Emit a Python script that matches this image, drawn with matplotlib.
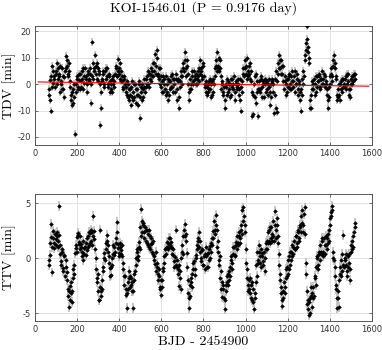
import matplotlib
matplotlib.use("Agg")
import matplotlib.pyplot as plt
from matplotlib.ticker import FuncFormatter, FixedLocator

# ---------------- data ----------------
# transit epochs, first set
t_a = [65, 70, 75, 80, 85, 90, 95, 100, 105, 110,
       115, 120, 125, 130, 135, 140, 145, 150, 155, 160,
       165, 170, 175, 180, 185, 190, 195, 200, 205, 210,
       215, 220, 225, 230, 235, 240, 245, 250, 255, 260,
       265, 270, 275, 280, 285, 290, 295, 300, 305, 310,
       315, 320, 325, 330, 335, 340, 345, 350, 355, 360,
       365, 370, 375, 380, 385, 390, 395, 400, 405, 410,
       415, 420, 425, 430, 435, 440, 445, 450, 455, 460,
       465, 470, 475, 480, 485, 490, 495, 500, 505, 510,
       515, 520, 525, 530, 535, 540, 545, 550, 555, 560,
       565, 570, 575, 580, 585, 590, 595, 600, 605, 610,
       615, 620, 625, 630, 635, 640, 645, 650, 655, 660,
       665, 670, 675, 680, 685, 690, 695, 700, 705, 710,
       715, 720, 725, 730, 735, 740, 745, 750, 755, 760,
       765, 770, 775, 780, 785, 790, 795, 800, 805, 810,
       815, 820, 825, 830, 835, 840, 845, 850, 855, 860,
       865, 870, 875, 880, 885, 890, 895, 900, 905, 910,
       915, 920, 925, 930, 935, 940, 945, 950, 955, 960,
       965, 970, 975, 980, 985, 990, 995, 1000, 1005, 1010,
       1015, 1020, 1025, 1030, 1035, 1040, 1045, 1050, 1055, 1060,
       1065, 1070, 1075, 1080, 1085, 1090, 1095, 1100, 1105, 1110,
       1115, 1120, 1125, 1130, 1135, 1140, 1145, 1150, 1155, 1160,
       1165, 1170, 1175, 1180, 1185, 1190, 1195, 1200, 1205, 1210,
       1215, 1220, 1225, 1230, 1235, 1240, 1245, 1250, 1255, 1260,
       1265, 1270, 1275, 1280, 1285, 1290, 1295, 1300, 1305, 1310,
       1315, 1320, 1325, 1330, 1335, 1340, 1345, 1350, 1355, 1360,
       1365, 1370, 1375, 1380, 1385, 1390, 1395, 1400, 1405, 1410,
       1415, 1420, 1425, 1430, 1435, 1440, 1445, 1450, 1455, 1460,
       1465, 1470, 1475, 1480, 1485, 1490, 1495, 1500, 1505, 1510,
       1515, 1520]

# transit epochs, second set
t_b = [67.5, 72.5, 77.5, 82.5, 87.5, 92.5, 97.5, 102.5, 107.5, 112.5,
       117.5, 122.5, 127.5, 132.5, 137.5, 142.5, 147.5, 152.5, 157.5, 162.5,
       167.5, 172.5, 177.5, 182.5, 187.5, 192.5, 197.5, 202.5, 207.5, 212.5,
       217.5, 222.5, 227.5, 232.5, 237.5, 242.5, 247.5, 252.5, 257.5, 262.5,
       267.5, 272.5, 277.5, 282.5, 287.5, 292.5, 297.5, 302.5, 307.5, 312.5,
       317.5, 322.5, 327.5, 332.5, 337.5, 342.5, 347.5, 352.5, 357.5, 362.5,
       367.5, 372.5, 377.5, 382.5, 387.5, 392.5, 397.5, 402.5, 407.5, 412.5,
       417.5, 422.5, 427.5, 432.5, 437.5, 442.5, 447.5, 452.5, 457.5, 462.5,
       467.5, 472.5, 477.5, 482.5, 487.5, 492.5, 497.5, 502.5, 507.5, 512.5,
       517.5, 522.5, 527.5, 532.5, 537.5, 542.5, 547.5, 552.5, 557.5, 562.5,
       567.5, 572.5, 577.5, 582.5, 587.5, 592.5, 597.5, 602.5, 607.5, 612.5,
       617.5, 622.5, 627.5, 632.5, 637.5, 642.5, 647.5, 652.5, 657.5, 662.5,
       667.5, 672.5, 677.5, 682.5, 687.5, 692.5, 697.5, 702.5, 707.5, 712.5,
       717.5, 722.5, 727.5, 732.5, 737.5, 742.5, 747.5, 752.5, 757.5, 762.5,
       767.5, 772.5, 777.5, 782.5, 787.5, 792.5, 797.5, 802.5, 807.5, 812.5,
       817.5, 822.5, 827.5, 832.5, 837.5, 842.5, 847.5, 852.5, 857.5, 862.5,
       867.5, 872.5, 877.5, 882.5, 887.5, 892.5, 897.5, 902.5, 907.5, 912.5,
       917.5, 922.5, 927.5, 932.5, 937.5, 942.5, 947.5, 952.5, 957.5, 962.5,
       967.5, 972.5, 977.5, 982.5, 987.5, 992.5, 997.5, 1002.5, 1007.5, 1012.5,
       1017.5, 1022.5, 1027.5, 1032.5, 1037.5, 1042.5, 1047.5, 1052.5, 1057.5, 1062.5,
       1067.5, 1072.5, 1077.5, 1082.5, 1087.5, 1092.5, 1097.5, 1102.5, 1107.5, 1112.5,
       1117.5, 1122.5, 1127.5, 1132.5, 1137.5, 1142.5, 1147.5, 1152.5, 1157.5, 1162.5,
       1167.5, 1172.5, 1177.5, 1182.5, 1187.5, 1192.5, 1197.5, 1202.5, 1207.5, 1212.5,
       1217.5, 1222.5, 1227.5, 1232.5, 1237.5, 1242.5, 1247.5, 1252.5, 1257.5, 1262.5,
       1267.5, 1272.5, 1277.5, 1282.5, 1287.5, 1292.5, 1297.5, 1302.5, 1307.5, 1312.5,
       1317.5, 1322.5, 1327.5, 1332.5, 1337.5, 1342.5, 1347.5, 1352.5, 1357.5, 1362.5,
       1367.5, 1372.5, 1377.5, 1382.5, 1387.5, 1392.5, 1397.5, 1402.5, 1407.5, 1412.5,
       1417.5, 1422.5, 1427.5, 1432.5, 1437.5, 1442.5, 1447.5, 1452.5, 1457.5, 1462.5,
       1467.5, 1472.5, 1477.5, 1482.5, 1487.5, 1492.5, 1497.5, 1502.5, 1507.5, 1512.5,
       1517.5]

tdv_a = [-2, 1.5, -10, 7, 0.5, 3, -1, 5, 8, 2,
         4, -3, 1, 6, -2, 2.5, 10.8, 7, 4, 8,
         1, -4, -8, -2, -5, -19, 0, 3, -2, 1.5,
         4, -1, 2, 6, 0.5, 3, -3, 5, 1, 4,
         -7, 15.8, 2, 6, 11, 4, 8, 1, 5, -15.5,
         -9, 2, 5, 0, 6, 3, -1, 4, 1, -2,
         2, 0, -1, 4, 7, 3, 9.6, 6, 2, 5,
         1, -2, 3, -1, -4, 0, -6, -2, -8, 1,
         -3, -5, 0, -7, -2, -4, 1, -13, -3, 0,
         -5, 2, -1, 3, 0, 4, 2, 6, 3, 8,
         5, 11.5, 7, 13, 4, 2, 6, -1, 1, -3,
         2, -4, 0, -6, 1, -2, 3, -1, 2, 0,
         -3, 4, -6, 2, -9, 1, 5, 3, 8, 12,
         6, 9, 4, -6, -2, 0, 3, 1, 5, 2,
         4, 0, 3, 6, 9, 5, 2, 7, -1, 1,
         -4, 0, -2, 2, -5, 1, -3, 0, 6, 9,
         12, 7, 5, 9, -2, 1, -4, -9, -1, 2,
         -3, 0, -5, 2, -1, -2, 3, -6, 1, -2,
         0, -4, 2, -10, 1, 6, 9, 4, 10, 3,
         7, 2, 5, -12, -11.5, 0, -5, 4, -3, -12,
         1, -2, 3, -5, 0, 2, -3, 1, -4, 2,
         -8, 0, 1, -3, -11, 2, 5, -10.5, 8, 11,
         6, 9, 4, 7, 1, -4, 2, -1, 3, 0,
         -2, 5, 1, 3, -3, 0, 4, -2, 1, -6,
         -10, 2, 5, 9, 15.5, 22, 12, 8, -9, -4,
         1, -2, 2, 0, -3, 3, 1, 4, -1, 2,
         5, 0, 3, 1, -2, -9, -5, 0, 4, 3,
         7, 11, 6, 2, -6, -2, -4, 0, 1, -3,
         2, -1, 3, 0, 4, -4, -2, 2, 0, 3,
         4, 2]

tdv_b = [-4, -6, 3, -1, 5, 2, 4, 0, 6, 3,
         7, 0, -2, 3, -5, 5, 6, 9, 3, 5,
         -1, -6, -3, -7, 0, -3, 2, -1, 4, -2,
         1, 5, -2, 3, 6, 2, 0, 4, 2, 6,
         0, 3, 8, 5, 7, 2, 6, 4, 0, -3,
         1, 4, -1, 5, 2, 6, 0, 3, -3, 0,
         -3, 3, 1, 6, 3, 5, 4, 8, 1, 3,
         -1, 2, 0, -3, 1, -5, -2, -4, -1, -5,
         -6, 0, -2, -4, -8, 0, -5, -1, -6, -2,
         -1, -3, 2, 0, 5, -1, 4, 1, 5, 3,
         8, 4, 10, 3, 6, 0, 3, -3, 3, 0,
         -2, 3, -3, 2, -4, 1, -1, 4, -3, 2,
         2, -2, 1, -5, -1, 3, 0, 6, 5, 9,
         3, 7, 0, -3, 2, -2, 5, 0, 3, 0,
         2, 5, 1, 4, 6, 3, 8, 3, 0, -3,
         -1, -3, 1, -2, 0, -4, 2, 3, 7, 5,
         6, 10, 6, 3, 0, -3, -1, -6, 0, -4,
         1, -2, 0, -4, 2, 0, -3, 0, -1, 2,
         -2, -6, -1, -3, 4, 3, 6, 7, 2, 5,
         4, 8, 1, -3, -4, 3, -7, 1, -2, -2,
         -3, 2, -1, 1, -5, 0, 1, -2, 0, -1,
         -3, -5, 2, 0, -4, -9, 1, 4, 6, 9,
         4, 7, 1, -2, 3, 0, -3, 2, 4, -2,
         3, 1, -1, 5, 0, 2, -4, 0, -3, -2,
         -4, 0, 3, 11, 13, 17, 14, 10, -6, -9,
         -2, 0, -4, 3, -1, 1, 3, -2, 2, 0,
         2, 4, -1, 0, -4, -6, -1, 3, 6, 1,
         9, 8, 3, -4, -5, 0, -6, -2, 2, -1,
         0, 2, -2, 4, 1, -2, -5, 0, 3, 1,
         4]

ttv_a = [-0.6, 0.3, 3.1, -1.3, 1.8, 1.4, 2.2, 1.2, 2.0, 1.6,
         4.7, 0.4, -0.3, 0.6, -1.2, 0.2, -0.8, -2.0, -2.8, -4.4,
         -2.5, -3.2, -4.0, -1.8, -0.6, 0.5, 1.2, 1.9, 2.3, 1.5,
         0.8, 1.3, 0.2, -0.2, 0.9, 1.4, 0.7, 2.0, 1.2, 2.3,
         1.6, 2.4, 3.8, 1.7, 0.8, -1.0, -2.2, -3.0, -3.8, 2.6,
         -3.4, -2.0, -0.8, 0.5, 1.4, 2.1, 1.2, 0.2, -0.9, -1.5,
         -0.6, 0.4, 1.0, 0.6, 1.8, 3.3, 0.9, 0.5, 1.4, 0.7,
         0.2, -1.0, -2.4, -3.3, -4.5, -2.2, -1.2, -2.6, -1.8, -3.0,
         -4.5, -2.0, -1.2, 0.0, 0.8, 0.2, 1.5, 2.8, 4.5, 2.4,
         3.2, 1.8, 2.6, 1.4, 2.2, 1.0, 2.0, 1.3, 0.6, 1.6,
         0.2, -0.5, -1.2, -0.4, -2.0, -1.6, -2.8, -3.3, -2.0, -0.9,
         0.2, 0.9, 1.5, 0.8, 1.8, 1.2, 1.5, 0.9, 0.3, -0.3,
         0.1, 2.6, -0.8, -1.4, -2.5, -1.2, 0.0, 1.2, 2.0, 3.1,
         2.2, 0.5, -2.0, -4.5, -3.4, -1.8, -2.6, -1.0, -0.3, -1.5,
         0.3, 1.2, 1.8, 2.4, 0.6, -0.3, 0.7, -0.6, 0.4, 1.0,
         -0.8, 0.5, -0.2, 1.1, 0.6, 1.8, 2.5, 3.4, 2.2, 3.9,
         1.0, 0.6, -0.6, -1.8, -2.8, -3.5, -2.4, -4.6, -3.0, -2.2,
         -1.4, -2.0, -0.8, -0.2, -1.0, 0.4, 1.0, 0.3, 1.5, 2.0,
         1.2, 2.4, 1.8, 3.0, 4.4, 4.6, 2.4, 0.8, -1.8, -2.4,
         -2.0, -3.2, -2.4, -3.8, -2.8, -4.6, -3.2, -0.6, 0.6, -0.2,
         1.2, 0.2, -0.8, 0.5, -0.3, -1.2, 0.8, 1.6, 2.4, 1.6,
         2.8, 1.8, 2.2, 3.4, 1.6, 4.3, 2.6, 3.0, 1.4, -0.6,
         -2.0, -3.2, -4.3, -3.6, -2.6, -1.8, -0.8, -1.4, 0.2, -0.6,
         0.6, 0.2, 1.0, 1.6, 0.8, 2.0, 1.4, 2.4, 1.8, 3.0,
         3.8, 4.4, 3.0, 4.6, -1.4, -3.0, -4.6, -4.0, -5.0, -3.4,
         -4.4, -2.6, -3.4, -1.6, -0.8, 0.0, -1.0, 0.6, 1.2, 0.4,
         1.6, 0.6, 1.2, 2.0, 0.8, 1.4, 2.6, 3.6, 4.2, 4.7,
         0.6, -0.2, -1.6, -2.8, -4.5, -3.6, -2.0, -0.8, -0.2, -1.2,
         2.1, 0.0, -0.6, -1.2, 0.2, -0.4, -2.0, 0.6, 1.6, 1.0,
         2.4, 3.2]

ttv_b = [-0.2, 1.4, 1.9, 1.0, 2.5, 0.9, 1.7, 2.4, 1.0, 2.1,
         1.2, -0.6, 0.8, -0.9, 0.3, -1.6, -0.2, -1.3, -3.4, -3.0,
         -3.8, -2.2, -3.0, -1.0, -1.4, 0.9, 0.6, 2.1, 1.3, 2.0,
         1.0, 0.6, 1.6, 0.4, 1.0, 0.3, 1.8, 1.0, 2.4, 1.4,
         2.6, 1.2, 2.0, 2.5, 0.0, -1.8, -1.4, -3.8, -2.6, -3.0,
         -2.8, -1.2, 0.0, -0.2, 0.8, 1.6, 0.6, -0.4, -1.6, -0.8,
         0.0, 1.2, 0.3, 1.4, 2.4, 1.3, 0.2, 1.0, 0.4, 1.2,
         -0.4, -1.6, -1.6, -2.8, -3.2, -2.8, -1.8, -1.6, -2.4, -2.2,
         -3.0, -1.4, -0.6, 0.6, -0.2, 1.0, 0.8, 2.0, 3.4, 3.0,
         2.4, 2.8, 1.6, 2.6, 1.2, 2.6, 0.8, 1.8, 1.4, 0.4,
         -0.2, 0.6, -0.8, -1.4, -1.0, -2.6, -2.0, -2.6, -1.2, -0.4,
         0.8, 0.4, 1.0, 1.4, 1.0, 1.8, 1.0, 0.4, 0.8, -0.8,
         -0.6, -0.2, -1.0, -0.6, -1.8, -2.8, 0.6, 0.4, 2.6, 2.0,
         1.6, -0.8, -3.2, -3.6, -2.4, -2.2, -1.4, -0.4, -1.0, 0.0,
         0.8, 1.6, 1.0, 1.6, 0.0, 0.8, -0.6, 0.2, -1.0, 0.2,
         0.4, -0.8, 0.8, 0.0, 1.4, 1.2, 1.8, 2.6, 3.0, 2.6,
         1.6, -0.2, 0.2, -1.2, -2.2, -2.8, -3.6, -3.8, -2.4, -1.6,
         -2.4, -1.2, -1.6, 0.2, -0.4, 1.0, 0.2, 1.2, 0.8, 1.4,
         2.0, 1.4, 2.6, 2.2, 3.4, 3.8, 3.0, -0.4, -1.0, -3.0,
         -2.8, -1.8, -3.6, -2.2, -4.0, -3.6, -2.2, -1.6, -0.4, 0.6,
         -0.4, 0.8, 0.2, -0.6, 0.6, 0.0, 1.4, 0.8, 1.4, 2.6,
         1.4, 2.8, 1.6, 2.0, 3.0, 1.8, 3.6, 2.0, 0.4, -1.4,
         -2.6, -3.8, -3.0, -2.2, -3.2, -1.0, -1.6, -0.2, -1.0, 0.6,
         -0.2, 1.2, 0.4, 0.8, 2.0, 1.0, 2.6, 1.6, 2.8, 2.4,
         3.2, 2.4, 4.0, 2.2, -0.4, -4.2, -3.8, -5.2, -3.6, -2.6,
         -3.2, -3.6, -1.8, -2.4, 0.2, -0.6, 0.4, -0.2, 0.6, 1.8,
         0.2, 1.8, 0.4, 1.2, 1.8, 2.2, 1.6, 3.0, 3.8, 4.4,
         0.0, -0.8, -2.4, -3.6, -3.0, -4.4, -1.4, -1.6, 0.4, -0.6,
         -0.8, -0.2, 0.4, -1.6, -0.8, 0.4, -1.0, 1.2, 0.8, 2.0,
         2.8]

tdv_err = 1.5
ttv_err = 0.45

fit_x = [15, 1585]
fit_y = [0.8, -0.8]

title = "KOI-1546.01 (P = 0.9176 day)"
x_label = "BJD - 2454900"
tdv_label = "TDV [min]"
ttv_label = "TTV [min]"
x_ticks = [0, 200, 400, 600, 800, 1000, 1200, 1400, 1600]
tdv_ticks = [-20, -10, 0, 10, 20]
ttv_ticks = [-5, 0, 5]

# ---------------- style ----------------
SERIF = ["cmr10", "DejaVu Serif"]
plt.rcParams["axes.formatter.use_mathtext"] = True

fig = plt.figure(figsize=(3.82, 3.5), dpi=100)
ax1 = fig.add_axes([0.0916, 0.586, 0.882, 0.340])
ax2 = fig.add_axes([0.0916, 0.083, 0.882, 0.362])

fmt = FuncFormatter(lambda v, p: ("%g" % v).replace("\u2212", "-"))


def style(ax, yticks, ylim):
    ax.set_xlim(0, 1600)
    ax.set_ylim(*ylim)
    ax.xaxis.set_major_locator(FixedLocator(x_ticks))
    ax.yaxis.set_major_locator(FixedLocator(yticks))
    ax.xaxis.set_major_formatter(fmt)
    ax.yaxis.set_major_formatter(fmt)
    ax.grid(True, color="#e3e3e3", linewidth=0.7, zorder=0)
    ax.set_axisbelow(True)
    for s in ax.spines.values():
        s.set_color("#555555")
        s.set_linewidth(0.7)
    ax.tick_params(direction="in", length=2.5, width=0.6, color="#555555",
                   labelsize=6, labelcolor="#333333", top=True, right=True,
                   pad=3)


for ax, ya, yb, err in ((ax1, tdv_a, tdv_b, tdv_err),
                        (ax2, ttv_a, ttv_b, ttv_err)):
    for tt, yy in ((t_a, ya), (t_b, yb)):
        ax.errorbar(tt, yy, yerr=err, fmt="none", ecolor="#bcbcbc",
                    elinewidth=1.2, zorder=2)
    for tt, yy in ((t_a, ya), (t_b, yb)):
        ax.plot(tt, yy, linestyle="none", marker="+", markersize=2.8,
                markeredgewidth=0.8, color="black", zorder=3)
        ax.plot(tt, yy, linestyle="none", marker=".", markersize=2.6,
                color="black", zorder=3)

ax1.plot(fit_x, fit_y, color="red", linewidth=0.8, zorder=4)

style(ax1, tdv_ticks, (-23, 22))
style(ax2, ttv_ticks, (-5.7, 5.8))

ax1.set_title(title, fontsize=10, family=SERIF, pad=10)
ax1.set_ylabel(tdv_label, fontsize=10, family=SERIF)
ax2.set_ylabel(ttv_label, fontsize=10, family=SERIF)
ax1.yaxis.set_label_coords(-0.055, 0.5)
ax2.yaxis.set_label_coords(-0.055, 0.5)
ax2.set_xlabel(x_label, fontsize=10, family=SERIF, labelpad=1)

fig.savefig("out.png", dpi=100)
